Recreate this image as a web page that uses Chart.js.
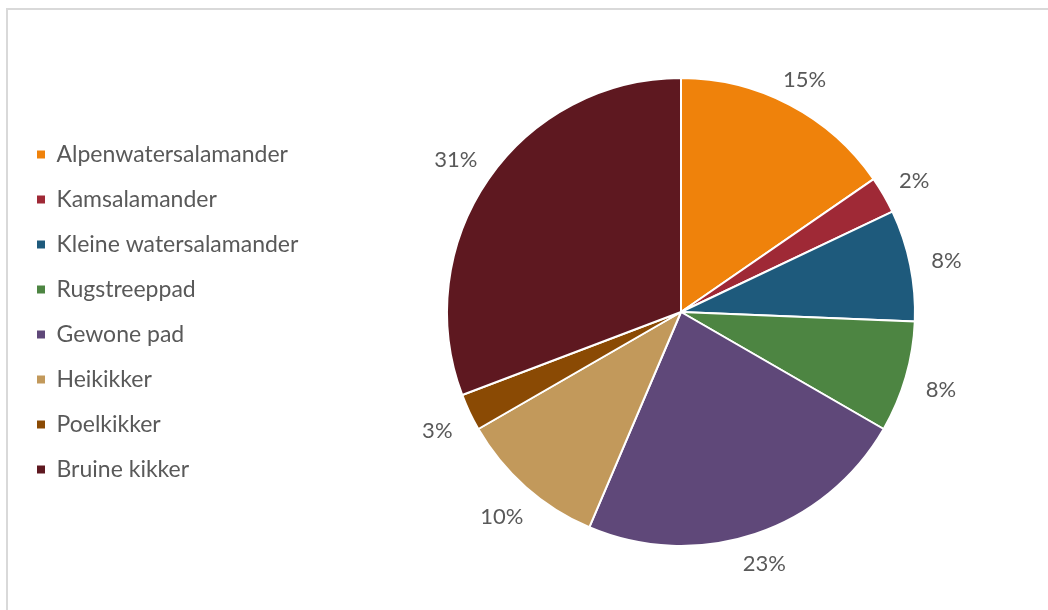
<!DOCTYPE html>
<html>
<head>
<meta charset="utf-8">
<script src="https://cdn.jsdelivr.net/npm/chart.js@4.4.1/dist/chart.umd.min.js"></script>
<style>
  html, body { margin: 0; padding: 0; background: #ffffff; }
  #wrap { position: relative; width: 1048px; height: 610px; overflow: hidden; }
  #frame { position: absolute; left: 6px; top: 8px; width: 1100px; height: 700px;
           border-top: 2px solid #d9d9d9; border-left: 2px solid #d9d9d9; pointer-events: none; }
  canvas { position: absolute; left: 0; top: 0; }
</style>
</head>
<body>
<div id="wrap">
  <canvas id="c" width="1048" height="610"></canvas>
  <div id="frame"></div>
</div>
<script>
// ---- data ----
const categories = ["Alpenwatersalamander", "Kamsalamander", "Kleine watersalamander", "Rugstreeppad",
                    "Gewone pad", "Heikikker", "Poelkikker", "Bruine kikker"];
const counts = [6, 1, 3, 3, 9, 4, 1, 12];
const sliceColors = ["#EF820B", "#9F2936", "#1E5A7C", "#4D8542", "#5F4879", "#C2995B", "#8A4A04", "#5E1820"];

const FONT = "Lato, 'Open Sans', sans-serif";
const TEXT_COLOR = "#595959";

// percentages rounded so they add up to 100 (largest remainder)
function roundedPercents(vals) {
  const total = vals.reduce((a, b) => a + b, 0);
  const raw = vals.map(v => v / total * 100);
  const fl = raw.map(Math.floor);
  let rest = 100 - fl.reduce((a, b) => a + b, 0);
  const order = raw.map((r, i) => ({ i, rem: r - Math.floor(r) }))
                   .sort((a, b) => (b.rem - a.rem) || (b.i - a.i));
  for (let k = 0; k < rest; k++) fl[order[k].i] += 1;
  return fl;
}
const pctLabels = roundedPercents(counts).map(p => p + "%");

const outsideLabels = {
  id: 'outsideLabels',
  afterDatasetsDraw(chart) {
    const ctx = chart.ctx;
    const meta = chart.getDatasetMeta(0);
    ctx.save();
    ctx.font = "22px " + FONT;
    ctx.fillStyle = TEXT_COLOR;
    ctx.textAlign = "center";
    ctx.textBaseline = "middle";
    meta.data.forEach((arc, i) => {
      const p = arc.getProps(['x', 'y', 'startAngle', 'endAngle', 'outerRadius'], true);
      const mid = (p.startAngle + p.endAngle) / 2;
      const txt = pctLabels[i];
      const w = ctx.measureText(txt).width;
      const c = Math.cos(mid), s = Math.sin(mid);
      const ext = Math.abs(w / 2 * c);
      const d = p.outerRadius + 22 + ext;
      ctx.fillText(txt, p.x + d * c, p.y + d * s + 3);
    });
    ctx.restore();
  }
};

const legendWidth = {
  id: 'legendWidth',
  beforeInit(chart) {
    const lg = chart.legend;
    if (!lg) return;
    const orig = lg.fit;
    lg.fit = function () { orig.call(this); this.width = 299; };
  }
};

new Chart(document.getElementById('c'), {
  type: 'pie',
  data: {
    labels: categories,
    datasets: [{
      data: counts,
      backgroundColor: sliceColors,
      borderColor: "#ffffff",
      borderWidth: 2
    }]
  },
  options: {
    responsive: false,
    animation: false,
    radius: 234,
    layout: { padding: { left: 15, top: 14, right: 0, bottom: 0 } },
    plugins: {
      tooltip: { enabled: false },
      legend: {
        position: 'left',
        align: 'center',
        labels: {
          boxWidth: 8,
          boxHeight: 8,
          padding: 22,
          color: TEXT_COLOR,
          font: { size: 23, family: FONT },
          generateLabels(chart) {
            const items = Chart.overrides.pie.plugins.legend.labels.generateLabels(chart);
            items.forEach(it => { it.lineWidth = 0; it.strokeStyle = it.fillStyle; });
            return items;
          }
        }
      }
    }
  },
  plugins: [legendWidth, outsideLabels]
});
</script>
</body>
</html>
